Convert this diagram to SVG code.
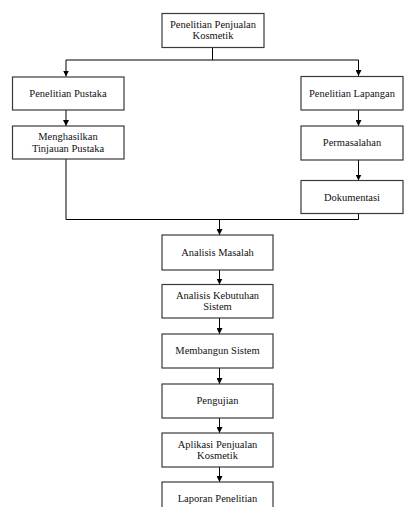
<svg xmlns="http://www.w3.org/2000/svg" width="404" height="507" viewBox="0 0 404 507">
<defs>
<marker id="ah" markerWidth="6" markerHeight="6" refX="6" refY="3" orient="auto" markerUnits="userSpaceOnUse" viewBox="0 0 6 6">
<path d="M0,0 L6,3 L0,6 Z" fill="#000"/>
</marker>
</defs>
<style>
.box{fill:#fff;stroke:#3a3a3a;stroke-width:1.2}
.t{font-family:"Liberation Serif","Times New Roman",serif;font-size:10.5px;fill:#111;text-anchor:middle}
.c{fill:none;stroke:#000;stroke-width:1}
</style>
<rect width="404" height="507" fill="#fff"/>
<g id="connectors">
<path class="c" d="M212.5,47 V60 M66,60 H358.5"/>
<path class="c" d="M66,60 V76.5" marker-end="url(#ah)"/>
<path class="c" d="M358.5,60 V76" marker-end="url(#ah)"/>
<path class="c" d="M66,110 V126" marker-end="url(#ah)"/>
<path class="c" d="M358.5,110 V126" marker-end="url(#ah)"/>
<path class="c" d="M358.5,160 V180.5" marker-end="url(#ah)"/>
<path class="c" d="M66,159 V219.5 H358.5 V213"/>
<path class="c" d="M219.5,219.5 V235" marker-end="url(#ah)"/>
<path class="c" d="M219.5,270 V284.5" marker-end="url(#ah)"/>
<path class="c" d="M219.5,318 V334" marker-end="url(#ah)"/>
<path class="c" d="M219.5,368 V384" marker-end="url(#ah)"/>
<path class="c" d="M219.5,418 V433" marker-end="url(#ah)"/>
<path class="c" d="M219.5,467 V482" marker-end="url(#ah)"/>
</g>
<g id="n1"><rect class="box" x="162" y="13.5" width="102" height="34"/><text class="t" x="213" y="27.5">Penelitian Penjualan</text><text class="t" x="213" y="39">Kosmetik</text></g>
<g id="n2"><rect class="box" x="12.5" y="77" width="111.5" height="33"/><text class="t" x="68" y="97">Penelitian Pustaka</text></g>
<g id="n3"><rect class="box" x="12.5" y="126" width="111.5" height="33"/><text class="t" x="68" y="140">Menghasilkan</text><text class="t" x="68" y="151.5">Tinjauan Pustaka</text></g>
<g id="n4"><rect class="box" x="301" y="76.5" width="102" height="33.5"/><text class="t" x="352" y="96.5">Penelitian Lapangan</text></g>
<g id="n5"><rect class="box" x="301" y="126" width="102" height="34"/><text class="t" x="352" y="146">Permasalahan</text></g>
<g id="n6"><rect class="box" x="301" y="180.5" width="102" height="33"/><text class="t" x="352" y="200.5">Dokumentasi</text></g>
<g id="n7"><rect class="box" x="162" y="235" width="111" height="35"/><text class="t" x="217.5" y="255.5">Analisis Masalah</text></g>
<g id="n8"><rect class="box" x="162" y="284.5" width="111" height="33.5"/><text class="t" x="217.5" y="298.5">Analisis Kebutuhan</text><text class="t" x="217.5" y="310">Sistem</text></g>
<g id="n9"><rect class="box" x="162" y="334" width="111" height="34"/><text class="t" x="217.5" y="354">Membangun Sistem</text></g>
<g id="n10"><rect class="box" x="162" y="384" width="111" height="34"/><text class="t" x="217.5" y="404">Pengujian</text></g>
<g id="n11"><rect class="box" x="162" y="433" width="111" height="34"/><text class="t" x="217.5" y="447.5">Aplikasi Penjualan</text><text class="t" x="217.5" y="459">Kosmetik</text></g>
<g id="n12"><rect class="box" x="162" y="482" width="111" height="34"/><text class="t" x="217.5" y="502">Laporan Penelitian</text></g>
</svg>
